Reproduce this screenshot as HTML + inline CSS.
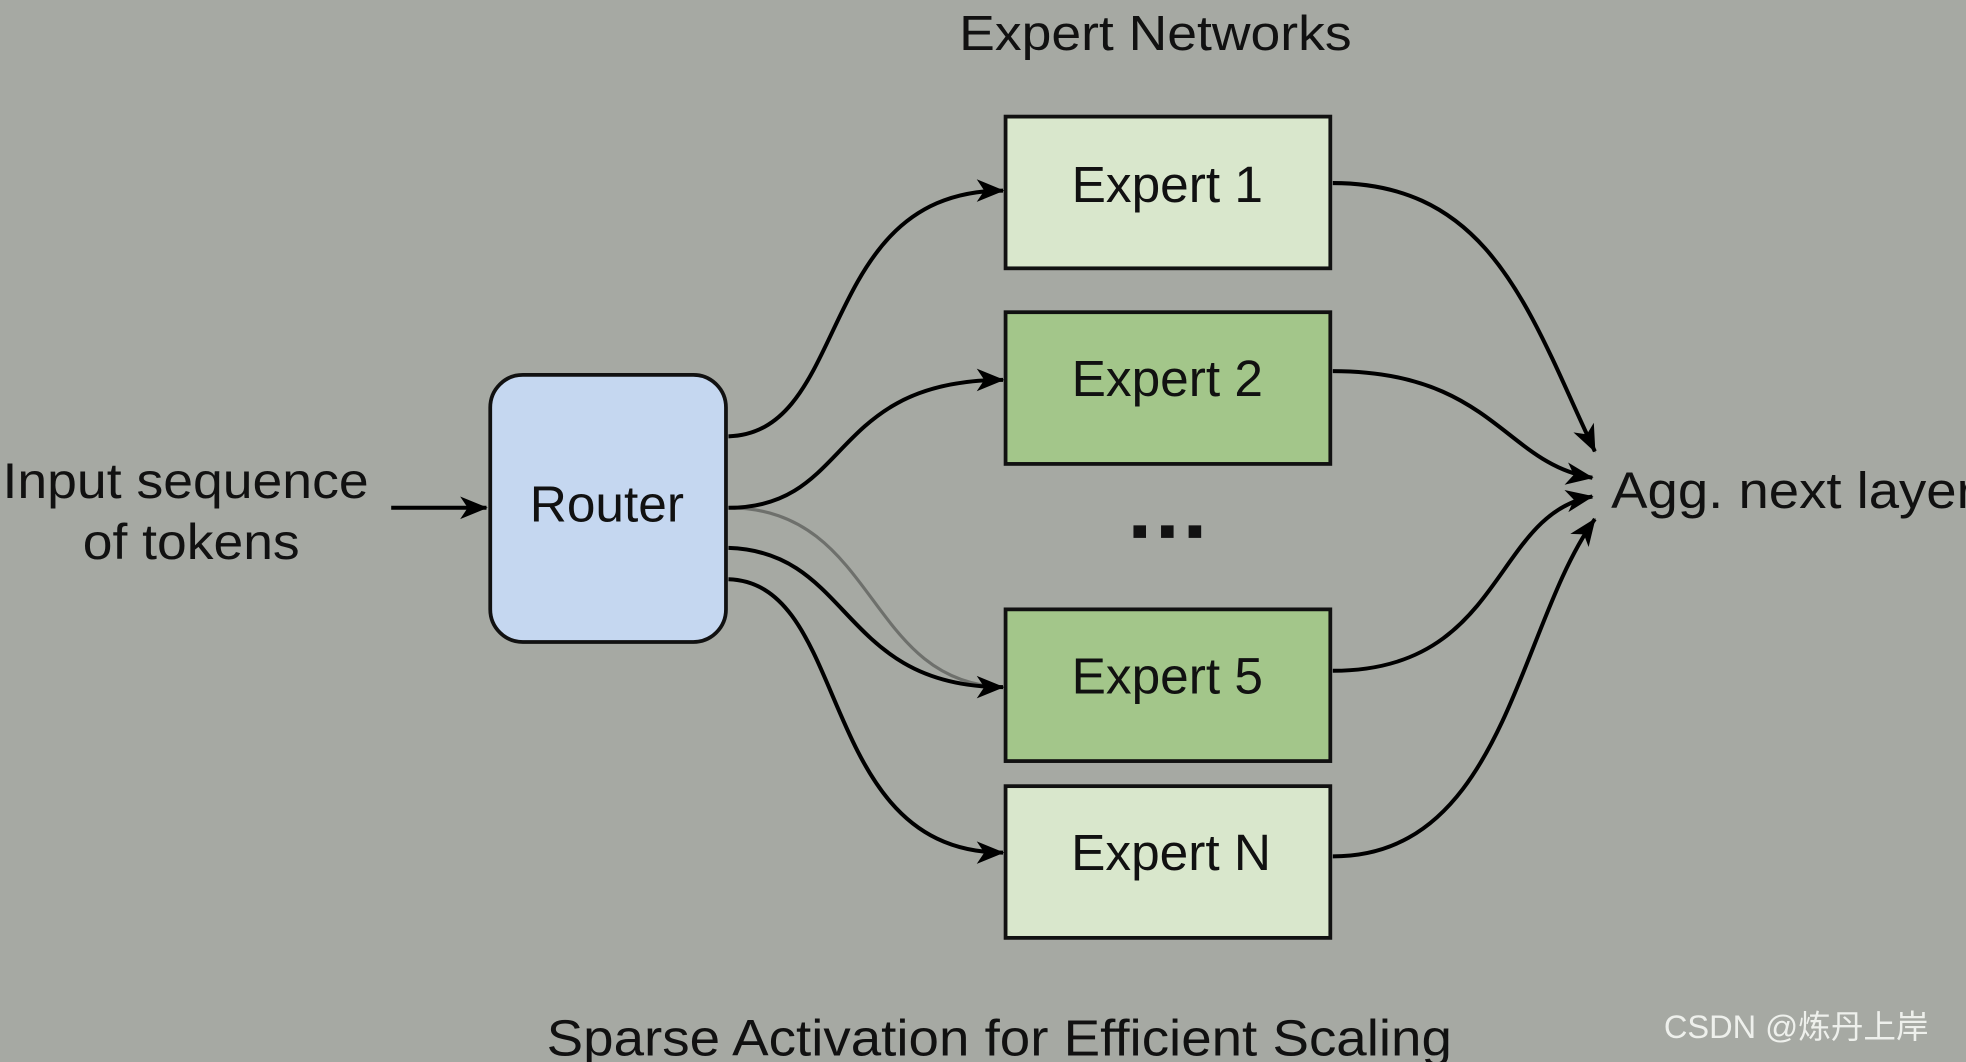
<!DOCTYPE html>
<html><head><meta charset="utf-8"><style>
html,body{margin:0;padding:0;background:#a6a9a3;}
svg{display:block;}
text{font-family:"Liberation Sans","Noto Sans CJK SC",sans-serif;fill:#111;}
</style></head><body>
<svg width="1966" height="1062" viewBox="0 0 1568 847" preserveAspectRatio="none" xmlns="http://www.w3.org/2000/svg">
<defs>
<marker id="a" viewBox="0 0 22 18" refX="21" refY="9" markerWidth="22" markerHeight="18" markerUnits="userSpaceOnUse" orient="auto" overflow="visible">
<path d="M0,0 L22,9 L0,18 L6,9 Z" fill="#000"/>
</marker>
</defs>
<rect width="1568" height="847" fill="#a6a9a3"/>
<text x="765" y="40" font-size="39" textLength="313" lengthAdjust="spacingAndGlyphs">Expert Networks</text>
<text x="2" y="397" font-size="40" textLength="292" lengthAdjust="spacingAndGlyphs">Input sequence</text>
<text x="66" y="446" font-size="40" textLength="173" lengthAdjust="spacingAndGlyphs">of tokens</text>
<text x="1285" y="405" font-size="41" textLength="290" lengthAdjust="spacingAndGlyphs">Agg. next layer</text>
<text x="436" y="842" font-size="41" textLength="722" lengthAdjust="spacingAndGlyphs">Sparse Activation for Efficient Scaling</text>
<text x="1327" y="828" font-size="26" style="fill:#eef0ec">CSDN @炼丹上岸</text>

<rect x="391" y="299" width="188" height="213" rx="26" fill="#c5d7f0" stroke="#111" stroke-width="3"/>
<text x="484" y="416" font-size="41" text-anchor="middle">Router</text>

<rect x="802" y="93" width="259" height="121" fill="#d9e7cc" stroke="#111" stroke-width="3"/>
<text x="931" y="161" font-size="41" text-anchor="middle">Expert 1</text>
<rect x="802" y="249" width="259" height="121" fill="#a3c68a" stroke="#111" stroke-width="3"/>
<text x="931" y="316" font-size="41" text-anchor="middle">Expert 2</text>
<rect x="802" y="486" width="259" height="121" fill="#a3c68a" stroke="#111" stroke-width="3"/>
<text x="931" y="553" font-size="41" text-anchor="middle">Expert 5</text>
<rect x="802" y="627" width="259" height="121" fill="#d9e7cc" stroke="#111" stroke-width="3"/>
<text x="934" y="694" font-size="41" text-anchor="middle">Expert N</text>
<g fill="#111"><rect x="904" y="419" width="10" height="10"/><rect x="926" y="419" width="10" height="10"/><rect x="948" y="419" width="10" height="10"/></g>

<g fill="none" stroke="#000" stroke-width="3.2">
<path d="M312,405 L388,405" marker-end="url(#a)"/>
<path d="M581,405 C700,405 690,545 800,548" stroke="#6e706c" stroke-width="2.5"/>
<path d="M581,348 C680,345 650,152 800,152" marker-end="url(#a)"/>
<path d="M581,405 C680,405 660,303 800,303" marker-end="url(#a)"/>
<path d="M581,437 C680,440 670,548 800,548" marker-end="url(#a)"/>
<path d="M581,462 C680,465 650,680 800,680" marker-end="url(#a)"/>
<path d="M1063,146 C1190,146 1220,250 1272,360" marker-end="url(#a)"/>
<path d="M1063,296 C1190,296 1200,370 1270,381" marker-end="url(#a)"/>
<path d="M1063,535 C1200,535 1190,410 1270,396" marker-end="url(#a)"/>
<path d="M1063,683 C1200,683 1210,500 1272,414" marker-end="url(#a)"/>
</g>
</svg>
</body></html>
